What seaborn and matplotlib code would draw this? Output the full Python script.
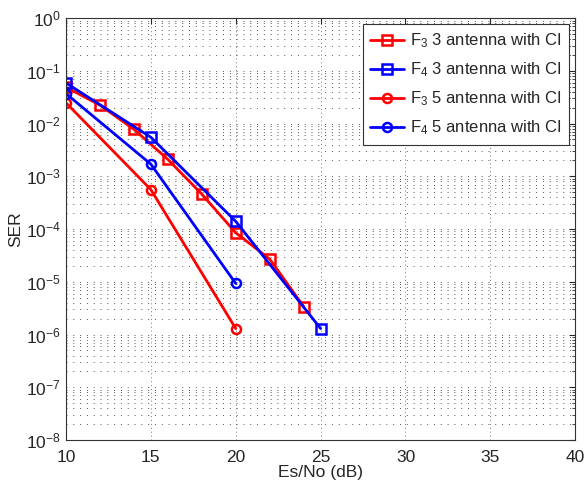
import numpy as np
import pandas as pd
import matplotlib
matplotlib.use("Agg")
from matplotlib import pyplot as plt
import seaborn as sns

sns.set_style("white")
plt.rcParams['font.family'] = ['Liberation Sans', 'DejaVu Sans']
plt.rcParams.update({'font.size': 12, 'mathtext.fontset': 'custom',
                     'mathtext.rm': 'Liberation Sans', 'mathtext.it': 'Liberation Sans:italic',
                     'xtick.direction': 'in', 'ytick.direction': 'in'})

# SER curves
snr_f3_3 = [10, 12, 14, 16, 18, 20, 22, 24]
ser_f3_3 = [0.049, 0.0224, 0.0078, 0.0021, 4.6e-4, 8.5e-5, 2.7e-5, 3.4e-6]
snr_f4_3 = [10, 15, 20, 25]
ser_f4_3 = [0.059, 0.0055, 1.4e-4, 1.3e-6]
snr_f3_5 = [10, 15, 20]
ser_f3_5 = [0.0248, 5.6e-4, 1.3e-6]
snr_f4_5 = [10, 15, 20]
ser_f4_5 = [0.037, 0.0017, 9.3e-6]

labels = ['F$_3$ 3 antenna with CI', 'F$_4$ 3 antenna with CI',
          'F$_3$ 5 antenna with CI', 'F$_4$ 5 antenna with CI']

fig = plt.figure(figsize=(5.84, 4.9), dpi=100)
ax = fig.add_axes([0.113, 0.102, 0.872, 0.861])

series = [(snr_f3_3, ser_f3_3, 'red', 's'),
          (snr_f4_3, ser_f4_3, 'blue', 's'),
          (snr_f3_5, ser_f3_5, 'red', 'o'),
          (snr_f4_5, ser_f4_5, 'blue', 'o')]
for (x, y, c, m), lab in zip(series, labels):
    sns.lineplot(x=x, y=y, ax=ax, color=c, marker=m, markersize=6.5,
                 markerfacecolor='none', markeredgecolor=c, markeredgewidth=1.8,
                 linewidth=2, label=lab)

ax.set_yscale('log')
ax.set_xlim(10, 40)
ax.set_ylim(1e-8, 1)
ax.set_xticks(np.arange(10, 41, 5))
ax.set_yticks([10.0 ** k for k in range(-8, 1)])
ax.grid(True, which='major', axis='x', linestyle=(0, (1, 3)), color='#777777', linewidth=0.7)
ax.grid(True, which='both', axis='y', linestyle=(0, (1, 6)), color='#555555', linewidth=0.7)
ax.xaxis.set_minor_locator(matplotlib.ticker.NullLocator())
ax.tick_params(which='both', top=True, right=True, length=4, labelsize=12.5)
ax.tick_params(axis='x', pad=7)
ax.tick_params(which='minor', length=2)
for s in ax.spines.values():
    s.set_color('#333333')
    s.set_linewidth(0.8)
ax.set_xlabel('Es/No (dB)', labelpad=0, fontsize=12.5)
ax.set_ylabel('SER', labelpad=2, fontsize=12.5)

leg = ax.legend(loc='upper right', fancybox=False, edgecolor='#333333', framealpha=1,
                borderaxespad=0.35, handlelength=2.0, handletextpad=0.4,
                labelspacing=0.62, borderpad=0.45, fontsize=12)
leg.get_frame().set_linewidth(0.8)

fig.savefig('out.png', dpi=100)
